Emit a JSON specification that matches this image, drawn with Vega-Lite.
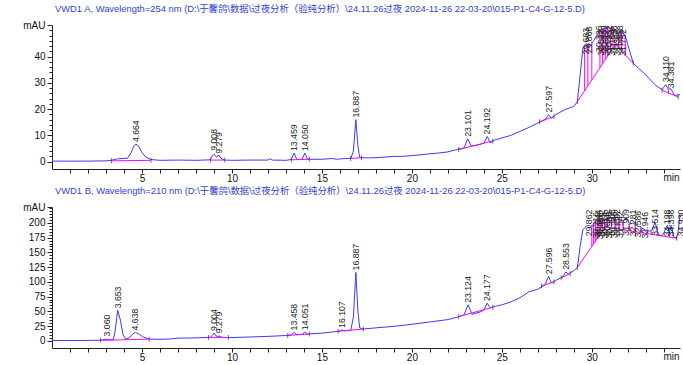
{
  "$schema": "https://vega.github.io/schema/vega-lite/v6.json",
  "background": "white",
  "padding": {"left": 22, "top": 3, "right": 0, "bottom": 0},
  "bounds": "flush",
  "spacing": 38,
  "datasets": {
    "traceA": [
      {"t":0,"v":0.2},{"t":1,"v":0.2},{"t":2,"v":0.2},{"t":3,"v":0.3},{"t":3.3,"v":0.5},{"t":3.6,"v":1.0},{"t":3.9,"v":1.2},{"t":4.2,"v":1.3},{"t":4.4,"v":3.5},{"t":4.55,"v":6.0},{"t":4.664,"v":6.7},{"t":4.8,"v":6.0},{"t":5.0,"v":3.5},{"t":5.2,"v":1.8},{"t":5.5,"v":0.8},{"t":6,"v":0.5},{"t":7,"v":0.6},{"t":8,"v":0.5},{"t":8.8,"v":0.7},{"t":8.9,"v":2.2},{"t":9.008,"v":2.7},{"t":9.14,"v":1.8},{"t":9.279,"v":2.5},{"t":9.4,"v":1.2},{"t":9.6,"v":0.6},{"t":10,"v":0.5},{"t":11,"v":0.6},{"t":12.0,"v":0.6},{"t":12.1,"v":1.1},{"t":12.25,"v":0.6},{"t":13,"v":0.5},{"t":13.3,"v":0.8},{"t":13.459,"v":3.3},{"t":13.6,"v":0.8},{"t":13.9,"v":0.9},{"t":14.05,"v":3.3},{"t":14.2,"v":0.9},{"t":15,"v":0.9},{"t":15.6,"v":1.2},{"t":15.8,"v":0.9},{"t":16.3,"v":1.2},{"t":16.6,"v":1.2},{"t":16.75,"v":4},{"t":16.887,"v":16.0},{"t":17.0,"v":6},{"t":17.1,"v":1.6},{"t":17.5,"v":1.4},{"t":18,"v":1.5},{"t":19,"v":2.0},{"t":19.5,"v":2.0},{"t":20,"v":2.3},{"t":20.5,"v":2.6},{"t":21,"v":3.0},{"t":21.5,"v":3.3},{"t":22,"v":3.7},{"t":22.5,"v":4.6},{"t":22.9,"v":5.2},{"t":23.101,"v":8.7},{"t":23.3,"v":6.0},{"t":23.6,"v":6.2},{"t":24.0,"v":7.0},{"t":24.192,"v":9.6},{"t":24.35,"v":7.2},{"t":24.6,"v":8.2},{"t":25,"v":9.0},{"t":25.5,"v":10.0},{"t":26,"v":11.5},{"t":26.5,"v":13.0},{"t":27,"v":14.7},{"t":27.4,"v":16.0},{"t":27.597,"v":17.9},{"t":27.75,"v":16.5},{"t":28,"v":17.9},{"t":28.5,"v":19.8},{"t":29,"v":21.0},{"t":29.2,"v":22.9},{"t":29.35,"v":33},{"t":29.5,"v":43.2},{"t":29.683,"v":45},{"t":29.8,"v":44.0},{"t":29.9,"v":43.8},{"t":30.1,"v":46},{"t":30.3,"v":48.3},{"t":30.5,"v":50.0},{"t":30.7,"v":50.8},{"t":30.9,"v":51.2},{"t":31.0,"v":50.5},{"t":31.1,"v":51.3},{"t":31.3,"v":50.0},{"t":31.5,"v":48.9},{"t":31.7,"v":49.5},{"t":31.9,"v":47},{"t":32.0,"v":44.5},{"t":32.3,"v":37.5},{"t":32.6,"v":35.5},{"t":33.0,"v":33.0},{"t":33.5,"v":29.3},{"t":33.9,"v":27.4},{"t":34.11,"v":29.3},{"t":34.25,"v":27.5},{"t":34.381,"v":27.8},{"t":34.6,"v":25.2},{"t":34.9,"v":25.5}
    ],
    "baseA": [
      {"seg":1,"t":3.3,"v":0.3},{"seg":1,"t":5.5,"v":0.5},
      {"seg":2,"t":8.8,"v":0.6},{"seg":2,"t":9.6,"v":0.6},
      {"seg":3,"t":13.3,"v":0.7},{"seg":3,"t":14.3,"v":0.9},
      {"seg":4,"t":16.6,"v":1.2},{"seg":4,"t":17.2,"v":1.5},
      {"seg":5,"t":22.6,"v":4.6},{"seg":5,"t":24.5,"v":7.9},
      {"seg":6,"t":27.1,"v":15.2},{"seg":6,"t":27.9,"v":17.2},
      {"seg":7,"t":29.2,"v":22.9},{"seg":7,"t":31.3,"v":44.5},{"seg":7,"t":32.3,"v":37.5},
      {"seg":8,"t":33.9,"v":27.2},{"seg":8,"t":34.8,"v":24.6}
    ],
    "dropA": [
      {"t":29.6,"v":27.0,"v2":44},{"t":29.78,"v":28.9,"v2":44.2},{"t":30.0,"v":31.1,"v2":44.8},{"t":30.45,"v":35.8,"v2":49.6},{"t":30.6,"v":37.3,"v2":50.4},{"t":30.75,"v":38.8,"v2":50.9},{"t":30.88,"v":40.2,"v2":51.2},{"t":31.03,"v":41.7,"v2":50.6},{"t":31.18,"v":43.3,"v2":50.9},{"t":31.48,"v":43.2,"v2":49.0},{"t":31.65,"v":42.0,"v2":49.3},{"t":31.85,"v":40.6,"v2":47.6},{"t":34.25,"v":25.8,"v2":27.6}
    ],
    "peaksA": [
      {"t":4.664,"v":6.7},{"t":9.008,"v":3.4},{"t":9.279,"v":2.2},{"t":13.459,"v":3.3},{"t":14.05,"v":3.3},{"t":16.887,"v":16.0},{"t":23.101,"v":8.7},{"t":24.192,"v":9.6},{"t":27.597,"v":17.9},{"t":29.683,"v":40},{"t":29.868,"v":40.5},{"t":30.396,"v":41},{"t":30.532,"v":39.5},{"t":30.669,"v":41},{"t":30.812,"v":39.5},{"t":30.952,"v":41},{"t":31.104,"v":39.5},{"t":31.258,"v":41},{"t":31.396,"v":39.5},{"t":31.568,"v":41},{"t":31.752,"v":39.5},{"t":34.11,"v":29.5},{"t":34.381,"v":27.2}
    ],
    "traceB": [
      {"t":0,"v":0.5},{"t":1,"v":0.5},{"t":2,"v":0.6},{"t":2.7,"v":1.0},{"t":3.0,"v":2.5},{"t":3.06,"v":3.0},{"t":3.15,"v":2.0},{"t":3.4,"v":1.5},{"t":3.5,"v":15},{"t":3.653,"v":51.7},{"t":3.8,"v":35},{"t":3.95,"v":10},{"t":4.1,"v":3},{"t":4.3,"v":5},{"t":4.5,"v":12},{"t":4.638,"v":14.2},{"t":4.85,"v":11},{"t":5.1,"v":6},{"t":5.4,"v":3.0},{"t":6.0,"v":2.5},{"t":6.5,"v":3.0},{"t":7,"v":4.5},{"t":8,"v":5.0},{"t":8.8,"v":6.0},{"t":8.9,"v":9},{"t":9.004,"v":13.2},{"t":9.15,"v":7.5},{"t":9.279,"v":8},{"t":9.45,"v":6},{"t":9.7,"v":5.5},{"t":10,"v":5.5},{"t":11,"v":6.5},{"t":12,"v":7.5},{"t":13,"v":9.0},{"t":13.3,"v":9.8},{"t":13.458,"v":14.2},{"t":13.6,"v":10.5},{"t":13.9,"v":11},{"t":14.051,"v":14.7},{"t":14.2,"v":11.5},{"t":15,"v":13.0},{"t":16,"v":16.5},{"t":16.107,"v":18.5},{"t":16.25,"v":17},{"t":16.6,"v":17.5},{"t":16.75,"v":40},{"t":16.887,"v":116},{"t":17.0,"v":50},{"t":17.1,"v":22},{"t":17.3,"v":20},{"t":18,"v":22},{"t":19,"v":24.5},{"t":20,"v":28},{"t":21,"v":32},{"t":22,"v":36},{"t":22.5,"v":40},{"t":22.9,"v":44},{"t":23.124,"v":61},{"t":23.35,"v":45},{"t":23.8,"v":49},{"t":24.0,"v":52},{"t":24.177,"v":64},{"t":24.35,"v":56},{"t":24.7,"v":59},{"t":25,"v":61},{"t":25.5,"v":66},{"t":26,"v":73},{"t":26.5,"v":83},{"t":27,"v":87.6},{"t":27.4,"v":95},{"t":27.596,"v":109.6},{"t":27.75,"v":98},{"t":28,"v":102.5},{"t":28.4,"v":109},{"t":28.553,"v":117},{"t":28.7,"v":113},{"t":29,"v":119},{"t":29.2,"v":124.5},{"t":29.35,"v":160},{"t":29.5,"v":188},{"t":29.7,"v":195},{"t":29.862,"v":196},{"t":30.0,"v":193},{"t":30.2,"v":203},{"t":30.4,"v":205},{"t":30.6,"v":207},{"t":30.8,"v":206},{"t":31.0,"v":209},{"t":31.2,"v":207},{"t":31.4,"v":210},{"t":31.6,"v":205},{"t":31.75,"v":203},{"t":31.909,"v":209},{"t":32.1,"v":198},{"t":32.281,"v":200},{"t":32.5,"v":195},{"t":32.7,"v":193},{"t":32.946,"v":188},{"t":33.2,"v":186},{"t":33.35,"v":188},{"t":33.514,"v":201},{"t":33.7,"v":180},{"t":33.9,"v":178},{"t":34.0,"v":183},{"t":34.198,"v":196},{"t":34.3,"v":182},{"t":34.398,"v":196},{"t":34.55,"v":176},{"t":34.7,"v":174},{"t":34.8,"v":185},{"t":34.9,"v":215}
    ],
    "baseB": [
      {"seg":1,"t":2.7,"v":0.8},{"seg":1,"t":5.4,"v":2.8},
      {"seg":2,"t":8.7,"v":5.8},{"seg":2,"t":9.8,"v":5.6},
      {"seg":3,"t":13.1,"v":9.2},{"seg":3,"t":14.3,"v":11.4},
      {"seg":4,"t":15.9,"v":16.2},{"seg":4,"t":17.3,"v":20},
      {"seg":5,"t":22.6,"v":41},{"seg":5,"t":24.5,"v":57},
      {"seg":6,"t":27.2,"v":93},{"seg":6,"t":27.9,"v":100},
      {"seg":7,"t":28.3,"v":107},{"seg":7,"t":28.8,"v":114},
      {"seg":8,"t":29.2,"v":124.5},{"seg":8,"t":30.74,"v":193},{"seg":8,"t":34.72,"v":174}
    ],
    "dropB": [
      {"t":30.0,"v":160.1,"v2":193},{"t":30.1,"v":164.5,"v2":198},{"t":30.2,"v":169,"v2":203},{"t":30.3,"v":173.4,"v2":204},{"t":30.4,"v":177.9,"v2":205},{"t":30.5,"v":182.3,"v2":206},{"t":30.6,"v":186.8,"v2":207},{"t":30.7,"v":191.2,"v2":206.5},{"t":30.85,"v":192.5,"v2":207},{"t":31.1,"v":191.3,"v2":208},{"t":31.3,"v":190.3,"v2":208.5},{"t":31.5,"v":189.4,"v2":207.5},{"t":31.75,"v":188.2,"v2":203},{"t":32.1,"v":186.5,"v2":198},{"t":32.4,"v":185.1,"v2":197},{"t":32.75,"v":183.4,"v2":191},{"t":33.3,"v":180.8,"v2":186.5},{"t":33.75,"v":178.6,"v2":180},{"t":34.3,"v":176,"v2":182},{"t":34.6,"v":174.6,"v2":176}
    ],
    "peaksB": [
      {"t":3.06,"v":4},{"t":3.653,"v":51.7},{"t":4.638,"v":14.2},{"t":9.004,"v":13.2},{"t":9.279,"v":9},{"t":13.458,"v":14.2},{"t":14.051,"v":14.7},{"t":16.107,"v":18.5},{"t":16.887,"v":116},{"t":23.124,"v":61},{"t":24.177,"v":64},{"t":27.596,"v":109.6},{"t":28.553,"v":117},{"t":29.862,"v":174},{"t":30.216,"v":170},{"t":30.344,"v":174},{"t":30.468,"v":169},{"t":30.592,"v":174},{"t":30.714,"v":170},{"t":30.842,"v":175},{"t":30.968,"v":170},{"t":31.108,"v":175},{"t":31.246,"v":171},{"t":31.392,"v":175},{"t":31.542,"v":171},{"t":31.909,"v":175},{"t":32.281,"v":174},{"t":32.586,"v":172},{"t":32.946,"v":170},{"t":33.514,"v":175},{"t":34.198,"v":174},{"t":34.398,"v":174},{"t":34.93,"v":174}
    ]
  },
  "vconcat": [
    {
      "width": 628,
      "height": 144,
      "title": {"text": "VWD1 A, Wavelength=254 nm (D:\\于馨鸽\\数据\\过夜分析（验纯分析）\\24.11.26过夜 2024-11-26 22-03-20\\015-P1-C4-G-12-5.D)"},
      "encoding": {
        "x": {"field": "t", "type": "quantitative", "scale": {"domain": [0, 34.9], "nice": false, "zero": false},
          "axis": {"values": [1,2,3,4,5,6,7,8,9,10,11,12,13,14,15,16,17,18,19,20,21,22,23,24,25,26,27,28,29,30,31,32,33,34],
            "labelExpr": "datum.value % 5 === 0 ? datum.label : ''", "labelOverlap": false, "labelFlush": false, "tickSize": 4, "labelPadding": 0,
            "title": "min", "titleX": 627, "titleY": 3, "titleAlign": "right", "titleAnchor": null, "titleBaseline": "top"}},
        "y": {"field": "v", "type": "quantitative", "scale": {"domain": [-2.8, 52], "nice": false, "zero": false},
          "axis": {"values": [0,2,4,6,8,10,12,14,16,18,20,22,24,26,28,30,32,34,36,38,40,42,44,46,48,50,52],
            "labelExpr": "datum.value === 52 ? 'mAU' : (datum.value % 10 === 0 && datum.value <= 40 ? datum.label : '')", "labelOverlap": false, "labelFlush": false,
            "tickSize": {"condition": {"test": "(datum.value % 10 === 0 && datum.value <= 40) || datum.value === 52", "value": 5}, "value": 3},
            "title": null}}
      },
      "layer": [
        {"data": {"name": "traceA"}, "mark": {"type": "line", "color": "#3a3aff", "strokeWidth": 1}},
        {"data": {"name": "baseA"}, "mark": {"type": "line", "color": "#ff00ff", "strokeWidth": 1}, "encoding": {"detail": {"field": "seg"}}},
        {"data": {"name": "dropA"}, "mark": {"type": "rule", "color": "#ff00ff", "strokeWidth": 1}, "encoding": {"y2": {"field": "v2"}}},
        {"data": {"name": "baseA"}, "mark": {"type": "tick", "orient": "vertical", "size": 5, "thickness": 1, "color": "#333333"}},
        {"data": {"name": "peaksA"}, "mark": {"type": "text", "angle": 270, "align": "left", "baseline": "middle", "dx": 2, "fontSize": 8.7, "font": "Liberation Sans", "color": "#222222"}, "encoding": {"text": {"field": "t", "type": "quantitative", "format": ".3f"}}}
      ]
    },
    {
      "width": 628,
      "height": 141,
      "title": {"text": "VWD1 B, Wavelength=210 nm (D:\\于馨鸽\\数据\\过夜分析（验纯分析）\\24.11.26过夜 2024-11-26 22-03-20\\015-P1-C4-G-12-5.D)"},
      "encoding": {
        "x": {"field": "t", "type": "quantitative", "scale": {"domain": [0, 34.9], "nice": false, "zero": false},
          "axis": {"values": [1,2,3,4,5,6,7,8,9,10,11,12,13,14,15,16,17,18,19,20,21,22,23,24,25,26,27,28,29,30,31,32,33,34],
            "labelExpr": "datum.value % 5 === 0 ? datum.label : ''", "labelOverlap": false, "labelFlush": false, "tickSize": 4, "labelPadding": 0,
            "title": "min", "titleX": 627, "titleY": 3, "titleAlign": "right", "titleAnchor": null, "titleBaseline": "top"}},
        "y": {"field": "v", "type": "quantitative", "scale": {"domain": [-12.2, 227], "nice": false, "zero": false},
          "axis": {"values": [0,5,10,15,20,25,30,35,40,45,50,55,60,65,70,75,80,85,90,95,100,105,110,115,120,125,130,135,140,145,150,155,160,165,170,175,180,185,190,195,200,205,210,215,220,225,227],
            "labelExpr": "datum.value === 227 ? 'mAU' : (datum.value % 25 === 0 && datum.value <= 200 ? datum.label : '')", "labelOverlap": false, "labelFlush": false,
            "tickSize": {"condition": {"test": "(datum.value % 25 === 0 && datum.value <= 200) || datum.value === 227", "value": 5}, "value": 3},
            "title": null}}
      },
      "layer": [
        {"data": {"name": "traceB"}, "mark": {"type": "line", "color": "#3a3aff", "strokeWidth": 1}},
        {"data": {"name": "baseB"}, "mark": {"type": "line", "color": "#ff00ff", "strokeWidth": 1}, "encoding": {"detail": {"field": "seg"}}},
        {"data": {"name": "dropB"}, "mark": {"type": "rule", "color": "#ff00ff", "strokeWidth": 1}, "encoding": {"y2": {"field": "v2"}}},
        {"data": {"name": "baseB"}, "mark": {"type": "tick", "orient": "vertical", "size": 5, "thickness": 1, "color": "#333333"}},
        {"data": {"name": "peaksB"}, "mark": {"type": "text", "angle": 270, "align": "left", "baseline": "middle", "dx": 2, "fontSize": 8.7, "font": "Liberation Sans", "color": "#222222"}, "encoding": {"text": {"field": "t", "type": "quantitative", "format": ".3f"}}}
      ]
    }
  ],
  "config": {
    "view": {"stroke": null},
    "axis": {"grid": false, "labelFont": "Liberation Sans", "labelFontSize": 10, "labelColor": "#111111", "labelPadding": 2,
      "domainColor": "#222222", "tickColor": "#222222", "titleFont": "Liberation Sans", "titleFontSize": 10, "titleFontWeight": "normal", "titleColor": "#111111"},
    "title": {"font": "Liberation Sans, Noto Sans CJK SC", "fontSize": 9.4, "fontWeight": "normal", "color": "#2f3fd8", "anchor": "start", "frame": "group", "dx": 3, "baseline": "middle", "offset": 6}
  }
}
